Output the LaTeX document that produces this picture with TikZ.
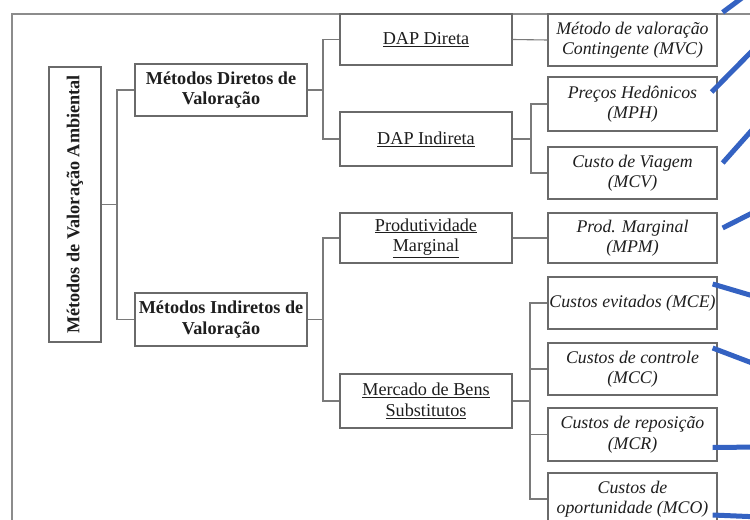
\documentclass[tikz,border=0pt]{standalone}
\usepackage{fontspec}
\setmainfont{Liberation Serif}
\begin{document}
\begin{tikzpicture}[x=1bp,y=-1bp]
\definecolor{boxgray}{HTML}{6A6A6A}
\definecolor{linegray}{HTML}{7A7A7A}
\definecolor{framegray}{HTML}{8C8C8C}
\definecolor{txt}{HTML}{1E1E1E}
\definecolor{bluel}{HTML}{3462C2}
\tikzset{
  box/.style={draw=boxgray, line width=1.3bp, inner sep=0pt, align=center, text=txt,
    font=\fontsize{18.2bp}{20.5bp}\selectfont},
  lvl1/.style={box, minimum width=172bp, font=\fontsize{18.2bp}{20.5bp}\selectfont\bfseries},
  lvl2/.style={box, minimum width=172bp},
  lvl3/.style={box, minimum width=169bp, font=\fontsize{17.8bp}{20.5bp}\selectfont\itshape},
  conn/.style={draw=linegray, line width=1.1bp},
  blueline/.style={draw=bluel, line width=5bp},
}
\useasboundingbox (0,0) rectangle (750,520);
\clip (0,0) rectangle (750,520);
\fill[white] (0,0) rectangle (750,520);
% outer frame
\draw[framegray, line width=2bp] (760,14) -- (12,14) -- (12,530);
% root
\node[box, minimum width=52bp, minimum height=275bp] (root) at (75,204.5) {};
\node[rotate=90, text=txt, font=\fontsize{18.2bp}{20.5bp}\selectfont\bfseries] (roottxt) at (root.center) {Métodos de Valoração Ambiental};
% level 1
\node[lvl1, minimum height=52bp] (MD) at (221,90) {Métodos Diretos de\\Valoração};
\node[lvl1, minimum height=53bp] (MI) at (221,319.5) {Métodos Indiretos de\\Valoração};
% level 2
\node[lvl2, minimum height=51bp] (DAPD) at (426,39.5) {\underline{DAP Direta}};
\node[lvl2, minimum height=54bp] (DAPI) at (426,139) {\underline{DAP Indireta}};
\node[lvl2, minimum height=50bp] (PM) at (426,238) {\underline{Produtividade}\\\underline{Marginal}};
\node[lvl2, minimum height=54bp] (MBS) at (426,401) {\underline{Mercado de Bens}\\\underline{Substitutos}};
% level 3
\node[lvl3, minimum height=52bp] (MVC) at (632.5,40) {Método de valoração\\Contingente (MVC)};
\node[lvl3, minimum height=54bp] (MPH) at (632.5,104) {Preços Hedônicos\\(MPH)};
\node[lvl3, minimum height=52bp] (MCV) at (632.5,173) {Custo de Viagem\\(MCV)};
\node[lvl3, minimum height=50bp] (MPM) at (632.5,238) {Prod. Marginal\\(MPM)};
\node[lvl3, minimum height=52bp] (MCE) at (632.5,303) {Custos evitados (MCE)};
\node[lvl3, minimum height=52bp] (MCC) at (632.5,369) {Custos de controle\\(MCC)};
\node[lvl3, minimum height=53bp] (MCR) at (632.5,434.5) {Custos de reposição\\(MCR)};
\node[lvl3, minimum height=52bp] (MCO) at (632.5,499) {Custos de\\oportunidade (MCO)};
% buses
\coordinate (bus1) at (117,0);
\coordinate (bus2) at (323,0);
\coordinate (bus3) at (531,0);
\coordinate (bus4) at (530,0);
% connectors
\draw[conn] (root.east) -- (root.east -| bus1);
\draw[conn] (MD.west) -| (bus1 |- MI.west) -- (MI.west);
\draw[conn] (MD.east) -- (MD.east -| bus2);
\draw[conn] (DAPD.west) -| (bus2 |- DAPI.west) -- (DAPI.west);
\draw[conn] (MI.east) -- (MI.east -| bus2);
\draw[conn] (PM.west) -| (bus2 |- MBS.west) -- (MBS.west);
\draw[conn] (DAPD.east) -- (MVC.west);
\draw[conn] (DAPI.east) -- (DAPI.east -| bus3);
\draw[conn] (MPH.west) -| (bus3 |- MCV.west) -- (MCV.west);
\draw[conn] (PM.east) -- (MPM.west);
\draw[conn] (MBS.east) -- (MBS.east -| bus4);
\draw[conn] (MCE.west) -| (bus4 |- MCO.west) -- (MCO.west);
\draw[conn] (MCC.west) -- (MCC.west -| bus4);
\draw[conn] (MCR.west) -- (MCR.west -| bus4);
% blue strokes
\coordinate (b1) at (758,-14);
\coordinate (b2) at (760,43);
\coordinate (b3) at (760,121);
\coordinate (b4) at (760,209);
\coordinate (b5) at (760,298);
\coordinate (b6) at (760,366);
\coordinate (b7) at (760,447);
\coordinate (b8) at (760,517);
\draw[blueline] ([shift={(5,-1)}]MVC.north east) -- (b1);
\draw[blueline] ([shift={(-6,-12)}]MPH.east) -- (b2);
\draw[blueline] ([shift={(5,-10)}]MCV.east) -- (b3);
\draw[blueline] ([shift={(5,-10)}]MPM.east) -- (b4);
\draw[blueline] ([shift={(-5,-19)}]MCE.east) -- (b5);
\draw[blueline] ([shift={(-5,-21)}]MCC.east) -- (b6);
\draw[blueline] ([shift={(-5,13)}]MCR.east) -- (b7);
\draw[blueline] ([shift={(-5,16)}]MCO.east) -- (b8);
\end{tikzpicture}
\end{document}
